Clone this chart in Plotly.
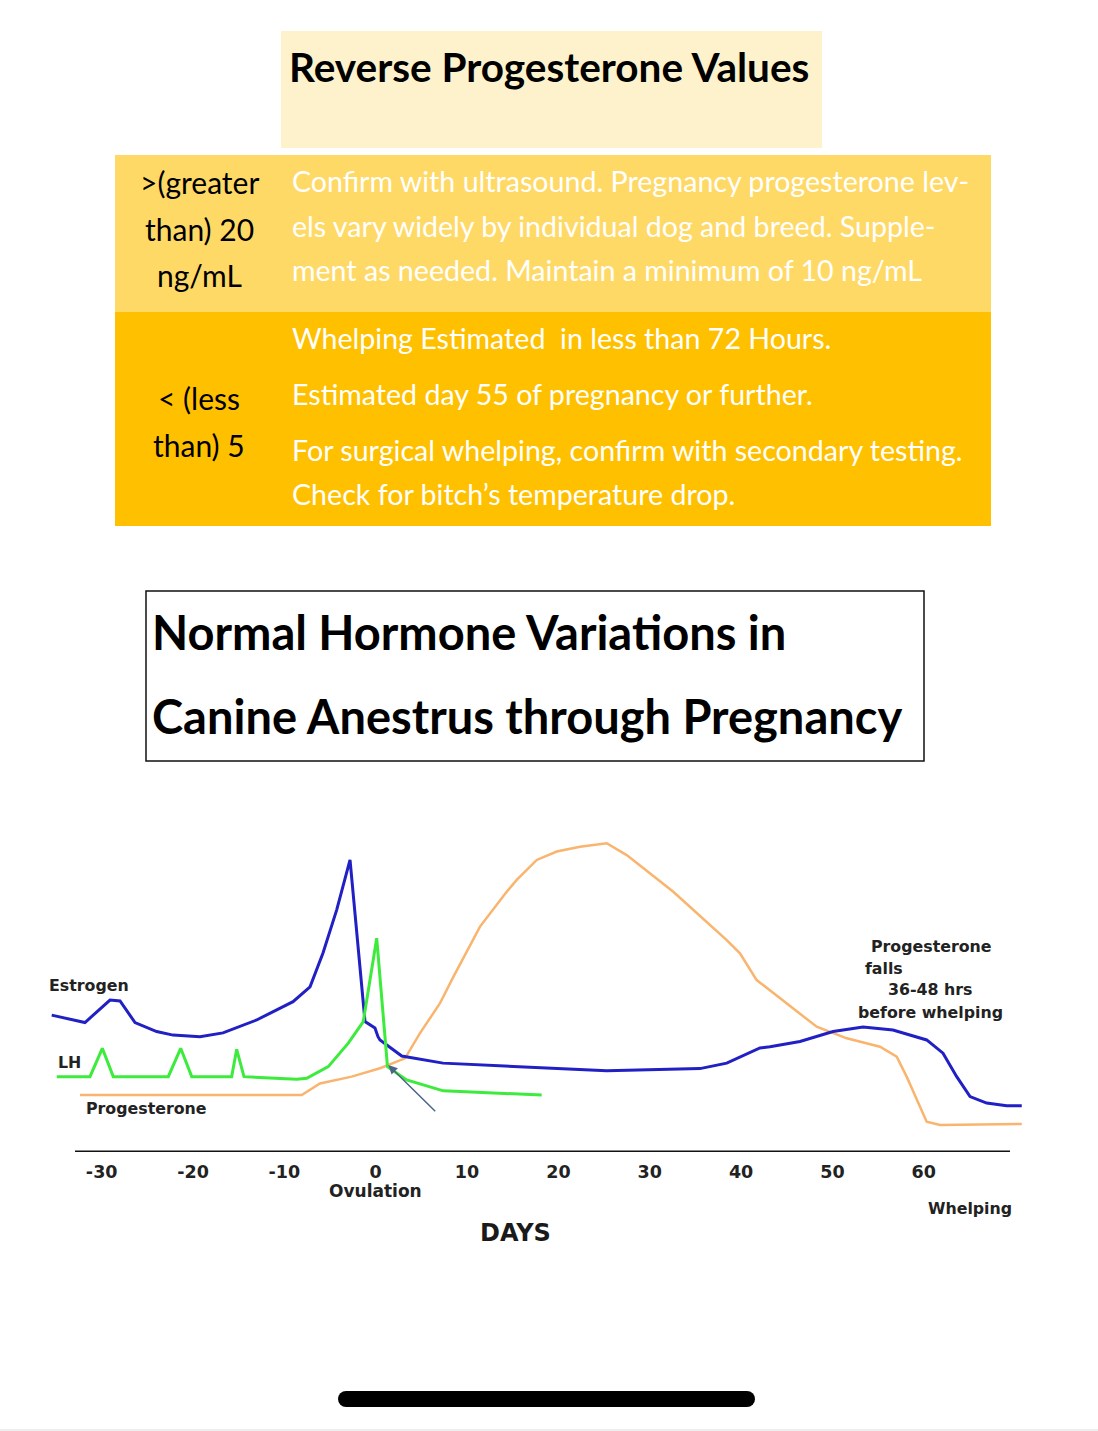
import plotly.graph_objects as go

W, H = 1098, 1431

# ------------------------------------------------------------------ data
# Days relative to ovulation (x) and relative hormone level, arbitrary units (y)
estrogen_days = [-35.47, -31.83, -29.09, -27.99, -26.35, -23.98, -22.19, -19.24, -16.72, -13.03,
                 -9.05, -7.19, -5.77, -4.27, -2.81, -1.17, -0.08, 0.25, 0.47, 2.85, 7.37, 15.03,
                 25.29, 35.50, 38.43, 42.07, 43.17, 46.45, 50.07, 53.35, 56.63, 60.32, 62.11,
                 63.61, 65.07, 66.89, 69.08, 70.73]
estrogen_level = [42.5, 40.2, 47.2, 46.9, 40.2, 37.4, 36.3, 35.8, 37.0, 41.0,
                  46.7, 51.3, 61.8, 75.2, 90.7, 40.5, 38.5, 35.8, 34.8, 29.8, 27.6, 26.5,
                  25.2, 25.9, 27.6, 32.3, 32.7, 34.3, 37.4, 38.8, 37.9, 34.8, 30.7,
                  23.4, 17.2, 15.2, 14.4, 14.4]

lh_days = [-34.92, -31.28, -29.93, -28.73, -22.71, -21.35, -20.14, -15.77, -15.22, -14.42,
           -8.65, -7.55, -5.19, -3.00, -1.36, 0.11, 1.29, 3.39, 7.40, 18.17]
lh_level = [23.4, 23.4, 32.2, 23.4, 23.4, 32.2, 23.4, 23.4, 31.9, 23.4,
            22.6, 22.9, 26.5, 33.8, 40.5, 66.4, 26.5, 22.4, 19.0, 17.7]

prog_days = [-32.37, -8.10, -6.10, -2.63, 0.47, 3.21, 4.85, 7.04, 8.50, 11.42, 14.34, 15.44,
             17.63, 19.82, 22.37, 25.29, 27.48, 32.58, 38.43, 39.88, 41.71, 44.26, 48.28,
             51.57, 55.21, 57.04, 58.13, 60.32, 61.78, 70.73]
prog_level = [17.7, 17.7, 21.3, 23.4, 26.0, 29.1, 36.9, 46.2, 54.4, 70.0, 80.8, 84.5,
              90.7, 93.3, 94.8, 95.9, 92.2, 80.8, 65.8, 61.7, 53.4, 47.7, 38.9,
              35.3, 32.7, 29.6, 23.4, 9.4, 8.4, 8.7]

tick_days = [-30, -20, -10, 0, 10, 20, 30, 40, 50, 60]
tick_labels = ["-30", "-20", "-10", "0", "10", "20", "30", "40", "50", "60"]

table_title = "Reverse Progesterone Values"
row1_key = ["&gt;(greater", "than) 20", "ng/mL"]
row1_text = ["Confirm with ultrasound. Pregnancy progesterone lev-",
             "els vary widely by individual dog and breed. Supple-",
             "ment as needed. Maintain a minimum of 10 ng/mL"]
row2_key = ["&lt; (less", "than) 5"]
row2_text = ["Whelping Estimated\u00a0 in less than 72 Hours.",
             "Estimated day 55 of pregnancy or further.",
             "For surgical whelping, confirm with secondary testing.",
             "Check for bitch\u2019s temperature drop."]
chart_title = ["Normal Hormone Variations in", "Canine Anestrus through Pregnancy"]

# ------------------------------------------------------------------ layout helpers
def px(x):
    return x / W

def py(y):
    return 1 - y / H

ORIGIN_PX, PX_PER_DAY = 375.7, 9.134
AXIS_Y_PX, TOP_Y_PX = 1152, 830
PLOT_L, PLOT_R = 45, 1025

def day_at(xpix):
    return (xpix - ORIGIN_PX) / PX_PER_DAY

TEXT_FONT = "Lato, 'Open Sans', sans-serif"
CHART_FONT = "'DejaVu Sans', Verdana, sans-serif"

fig = go.Figure()
fig.add_trace(go.Scatter(x=prog_days, y=prog_level, mode="lines", name="Progesterone",
                         line=dict(color="#F9B46E", width=2.5), hoverinfo="skip"))
fig.add_trace(go.Scatter(x=estrogen_days, y=estrogen_level, mode="lines", name="Estrogen",
                         line=dict(color="#2020C4", width=3), hoverinfo="skip"))
fig.add_trace(go.Scatter(x=lh_days, y=lh_level, mode="lines", name="LH",
                         line=dict(color="#3CEB3C", width=3), hoverinfo="skip"))

shapes = []
# title box
shapes.append(dict(type="rect", xref="paper", yref="paper", x0=px(281), x1=px(822),
                   y0=py(148), y1=py(31), fillcolor="#FEF2CC", line=dict(width=0), layer="below"))
# table rows
shapes.append(dict(type="rect", xref="paper", yref="paper", x0=px(115), x1=px(991),
                   y0=py(312), y1=py(155), fillcolor="#FFD966", line=dict(width=0), layer="below"))
shapes.append(dict(type="rect", xref="paper", yref="paper", x0=px(115), x1=px(991),
                   y0=py(526), y1=py(312), fillcolor="#FFC000", line=dict(width=0), layer="below"))
# chart title box
shapes.append(dict(type="rect", xref="paper", yref="paper", x0=px(146), x1=px(924),
                   y0=py(761), y1=py(591), fillcolor="white", line=dict(color="#111", width=1.5),
                   layer="below"))
# x axis line
shapes.append(dict(type="line", xref="x", yref="y", x0=day_at(75), x1=day_at(1010),
                   y0=0, y1=0, line=dict(color="#111", width=3)))
# home indicator
shapes.append(dict(type="rect", xref="paper", yref="paper", x0=px(346), x1=px(747),
                   y0=py(1407), y1=py(1391), fillcolor="black", line=dict(width=0)))
for cx in (346, 747):
    shapes.append(dict(type="circle", xref="paper", yref="paper", x0=px(cx - 8), x1=px(cx + 8),
                       y0=py(1407), y1=py(1391), fillcolor="black", line=dict(width=0)))
shapes.append(dict(type="rect", xref="paper", yref="paper", x0=0, x1=1,
                   y0=0, y1=py(1429), fillcolor="#EEEEEE", line=dict(width=0)))

ann = []

def text(t, x, y, size, color="black", anchor="left", family=TEXT_FONT, weight="normal"):
    ann.append(dict(text=t, x=px(x), y=py(y), xref="paper", yref="paper", showarrow=False,
                    xanchor=anchor, yanchor="middle",
                    font=dict(family=family, size=size, color=color, weight=weight)))

text(table_title, 287, 66, 40.5, weight="bold")
for t, y in zip(row1_key, [182, 229, 275]):
    text(t, 199, y, 30, anchor="center")
for t, y in zip(row1_text, [181, 226, 270]):
    text(t, 290, y, 28.6, color="white")
for t, y in zip(row2_key, [398, 445]):
    text(t, 199, y, 30, anchor="center")
for t, y in zip(row2_text, [338, 394, 450, 494]):
    text(t, 290, y, 28.6, color="white")
for t, y in zip(chart_title, [632, 716]):
    text(t, 150, y, 47, weight="bold")

lab = "#222222"
LS = 15.8
text("Estrogen", 47, 985, LS, lab, family=CHART_FONT, weight="bold")
text("LH", 56, 1062, LS, lab, family=CHART_FONT, weight="bold")
text("Progesterone", 84, 1108, LS, lab, family=CHART_FONT, weight="bold")
text("Progesterone", 869, 947, LS, lab, family=CHART_FONT, weight="bold")
text("falls", 863, 968, LS, lab, family=CHART_FONT, weight="bold")
text("36-48 hrs", 886, 990, LS, lab, family=CHART_FONT, weight="bold")
text("before whelping", 856, 1012, LS, lab, family=CHART_FONT, weight="bold")
text("Whelping", 970, 1208, LS, lab, anchor="center", family=CHART_FONT, weight="bold")
text("DAYS", 515, 1233, 24, "#1a1a1a", anchor="center", family=CHART_FONT, weight="bold")

ann.append(dict(text="Ovulation", x=0, xref="x", y=py(1191), yref="paper", showarrow=False,
                xanchor="center", yanchor="middle",
                font=dict(family=CHART_FONT, size=17, color=lab, weight="bold")))

# ovulation arrow
ann.append(dict(x=1.38, y=27.0, ax=6.68, ay=12.2, xref="x", yref="y", axref="x", ayref="y",
                text="", showarrow=True, arrowhead=2, arrowsize=1.2, arrowwidth=1.5,
                arrowcolor="#4A6585"))

fig.update_layout(
    width=W, height=H, margin=dict(l=0, r=0, t=0, b=0),
    paper_bgcolor="white", plot_bgcolor="white", showlegend=False,
    shapes=shapes, annotations=ann,
    xaxis=dict(domain=[px(PLOT_L), px(PLOT_R)], range=[day_at(PLOT_L), day_at(PLOT_R)],
               tickvals=tick_days, ticktext=tick_labels, showgrid=False, zeroline=False,
               showline=False, ticks="", ticklabelstandoff=7,
               tickfont=dict(family=CHART_FONT, size=17.5, color=lab, weight="bold")),
    yaxis=dict(domain=[py(AXIS_Y_PX), py(TOP_Y_PX)],
               range=[0, (AXIS_Y_PX - TOP_Y_PX) / 3.22], visible=False),
)

fig.write_html("out.html")
